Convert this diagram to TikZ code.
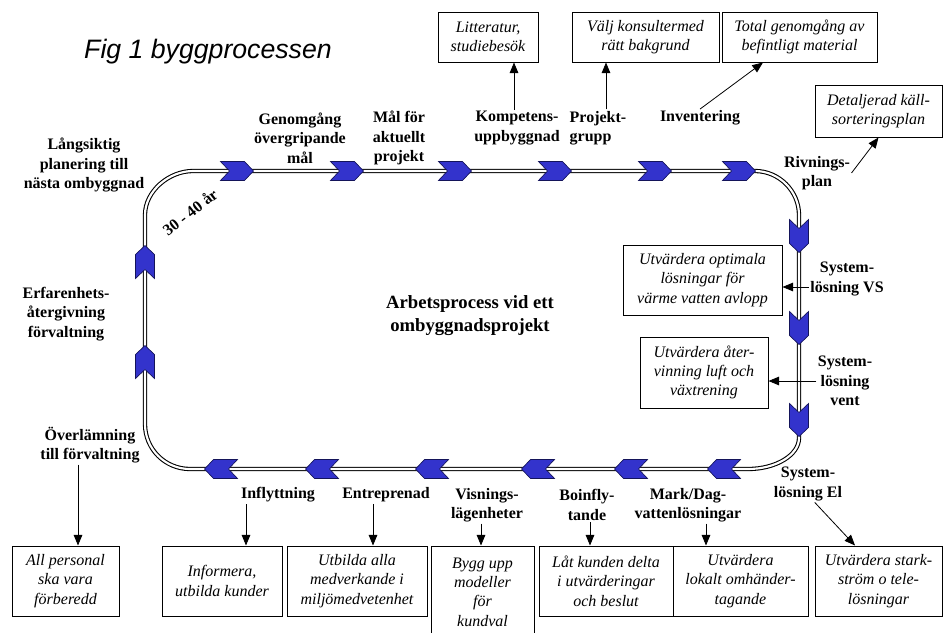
\documentclass[tikz,border=0pt]{standalone}
\usepackage{fontspec}
\setmainfont{Liberation Serif}
\newfontfamily\sansfig{Liberation Sans}
\usetikzlibrary{arrows.meta}
\definecolor{chevblue}{RGB}{51,51,204}
\definecolor{chevline}{RGB}{20,20,90}

\begin{document}
\begin{tikzpicture}[x=0.75pt, y=-0.75pt,
	>={Triangle[length=8pt,width=6.5pt]},
	stage/.style={font=\fontsize{12}{14.5}\selectfont\bfseries, align=center, inner sep=1pt},
	task/.style={draw, line width=0.75pt, font=\fontsize{12}{14.5}\selectfont\itshape, align=center, inner sep=2pt},
	link/.style={->, line width=0.6pt},
	loopline/.style={double, line width=0.8pt, double distance=1.6pt},
	chevron/.pic={\filldraw[fill=chevblue, draw=chevline, line width=0.5pt] (-16.5,-9.5) -- (7.5,-9.5) -- (16.5,0) -- (7.5,9.5) -- (-16.5,9.5) -- (-7.5,0) -- cycle;}]
	\useasboundingbox (0,0) rectangle (945,632);
	\clip (0,0) rectangle (945,632);

	% the process loop
	\draw[loopline] (470,171) -- (755,171) .. controls (779,171) and (799,191) .. (799,215) -- (799,438) .. controls (799,455) and (776,469) .. (748,469) -- (190,469) .. controls (165,469) and (145,449) .. (145,424) -- (145,215) .. controls (145,191) and (169,171) .. (193,171) -- cycle;
	\foreach \x in {237,347,455,555,655,739}
		\pic at (\x,171) {chevron};
	\foreach \y in {236,328,420}
		\pic[rotate=-90] at (799,\y) {chevron};
	\foreach \x in {221,322,432,538,631,724}
		\pic[rotate=180] at (\x,469) {chevron};
	\foreach \y in {262,362}
		\pic[rotate=90] at (145,\y) {chevron};

	\node[font=\sansfig\itshape\fontsize{20}{24}\selectfont] (title) at (208,52) {Fig 1 byggprocessen};
	\node[stage, font=\fontsize{14}{17.25}\selectfont\bfseries] (center) at (470,316) {Arbetsprocess vid ett\\ombyggnadsprojekt};
	\node[stage, rotate=38] (age) at (190,212) {30 - 40 år};

	% stages
	\node[stage] (lang) at (84,165) {Långsiktig\\planering till\\nästa ombyggnad};
	\node[stage] (genom) at (300,138) {Genomgång\\övergripande\\mål};
	\node[stage] (malfor) at (399,138) {Mål för\\aktuellt\\projekt};
	\node[stage] (komp) at (517,128) {Kompetens-\\uppbyggnad};
	\node[stage, align=left] (proj) at (598,128) {Projekt-\\grupp};
	\node[stage] (inv) at (700,118) {Inventering};
	\node[stage] (riv) at (817,173) {Rivnings-\\plan};
	\node[stage] (vs) at (847,279) {System-\\lösning VS};
	\node[stage] (vent) at (845,381) {System-\\lösning\\vent};
	\node[stage] (el) at (808,484) {System-\\lösning El};
	\node[stage] (mark) at (688,505) {Mark/Dag-\\vattenlösningar};
	\node[stage] (boin) at (587,505) {Boinfly-\\tande};
	\node[stage] (visn) at (487,505) {Visnings-\\lägenheter};
	\node[stage] (entre) at (386,495) {Entreprenad};
	\node[stage] (infl) at (278,495) {Inflyttning};
	\node[stage] (overl) at (90,445) {Överlämning\\till förvaltning};
	\node[stage] (erf) at (66,314) {Erfarenhets-\\återgivning\\förvaltning};

	% tasks
	\node[task, minimum width=75pt, minimum height=37.5pt] (litt) at (488,37) {Litteratur,\\studiebesök};
	\node[task, minimum width=110.25pt, minimum height=37.5pt] (valj) at (645.5,37) {Välj konsultermed\\rätt bakgrund};
	\node[task, minimum width=116.25pt, minimum height=37.5pt] (tot) at (799.5,37) {Total genomgång av\\befintligt material};
	\node[task, minimum width=95.25pt, minimum height=39pt] (det) at (878.5,111) {Detaljerad käll-\\sorteringsplan};
	\node[task, minimum width=119.25pt, minimum height=52.5pt] (opt) at (702.5,280) {Utvärdera optimala\\lösningar för\\värme vatten avlopp};
	\node[task, minimum width=96pt, minimum height=53.25pt] (aterv) at (704,372.5) {Utvärdera åter-\\vinning luft och\\växtrening};
	\node[task, minimum width=95.25pt, minimum height=52.5pt] (stark) at (878.5,581) {Utvärdera stark-\\ström o tele-\\lösningar};
	\node[task, minimum width=101.25pt, minimum height=52.5pt] (lokalt) at (740.5,581) {Utvärdera\\lokalt omhänder-\\tagande};
	\node[task, minimum width=100.5pt, minimum height=52.5pt] (lat) at (606,581) {Låt kunden delta\\i utvärderingar\\och beslut};
	\node[task, minimum width=77.25pt, minimum height=69pt] (bygg) at (482.5,592) {Bygg upp\\modeller\\för\\kundval};
	\node[task, minimum width=105pt, minimum height=52.5pt] (utb) at (357,581) {Utbilda alla\\medverkande i\\miljömedvetenhet};
	\node[task, minimum width=90pt, minimum height=52.5pt] (inform) at (222,581) {Informera,\\utbilda kunder};
	\node[task, minimum width=80.25pt, minimum height=52.5pt] (allpers) at (65.5,581) {All personal\\ska vara\\förberedd};

	% links
	\draw[link] ([xshift=-2.25pt]komp.north) -- ([xshift=-2.25pt]komp.north |- litt.south);
	\draw[link] ([xshift=6pt]proj.north) -- ([xshift=6pt]proj.north |- valj.south);
	\draw[link] (inv.north) -- ([xshift=-27.4pt]tot.south);
	\draw[link] (riv.east) -- (det.south);
	\draw[link] ([yshift=-6pt]vs.west) -- ([yshift=-6pt]vs.west -| opt.east);
	\draw[link] (vent.west) -- (vent.west -| aterv.east);
	\draw[link] ([xshift=5pt]el.south) -- ([xshift=-17.6pt]stark.north);
	\draw[link] ([xshift=13.5pt]mark.south) -- ([xshift=13.5pt]mark.south |- lokalt.north);
	\draw[link] ([xshift=2.25pt]boin.south) -- ([xshift=2.25pt]boin.south |- lat.north);
	\draw[link] ([xshift=-4.5pt]visn.south) -- ([xshift=-4.5pt]visn.south |- bygg.north);
	\draw[link] ([xshift=-9.75pt]entre.south) -- ([xshift=-9.75pt]entre.south |- utb.north);
	\draw[link] ([xshift=-24pt]infl.south) -- ([xshift=-24pt]infl.south |- inform.north);
	\draw[link] ([xshift=-9pt]overl.south) -- ([xshift=-9pt]overl.south |- allpers.north);
\end{tikzpicture}
\end{document}
